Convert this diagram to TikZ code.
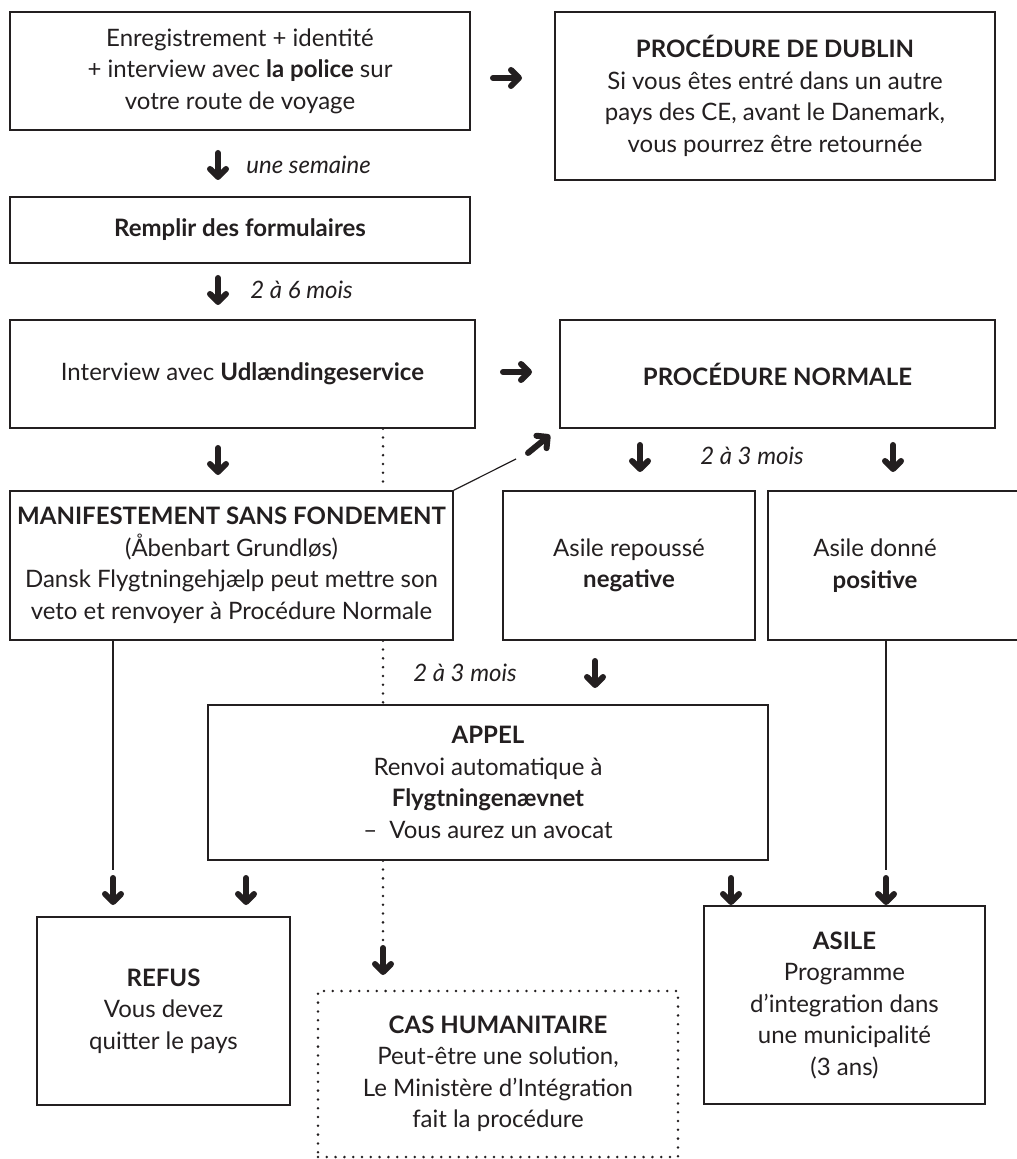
\documentclass[tikz,border=0pt]{standalone}
\usepackage{fontspec}
\setmainfont{Lato}
\usetikzlibrary{arrows.meta}

\definecolor{ink}{RGB}{35,31,32}
\def\dotX{383}
\def\aL{15}

\tikzset{
  box/.style={draw=ink, line width=0.75pt, align=center, inner sep=0pt, text=ink,
    font=\fontsize{12}{15.75}\selectfont},
  fat/.style={draw=ink, line width=3pt, line cap=round,
    -{Straight Barb[round, length=4pt, width=8pt]}},
  link/.style={draw=ink, line width=0.6pt},
  dots/.style={draw=ink, line width=1.4pt, line cap=round, dash pattern=on 0pt off 4.4pt},
  note/.style={text=ink, font=\fontsize{12}{15.75}\selectfont\itshape, inner sep=0pt},
}

\begin{document}
\begin{tikzpicture}[x=0.5pt, y=-0.5pt]
  \useasboundingbox (0,0) rectangle (1016,1159);

  %%   (label)   (x, y)   {text}
  \node[box, minimum width=230pt, minimum height=59pt] (enreg) at (240,71)
    {Enregistrement + identité\\+ interview avec \textbf{la police} sur\\votre route de voyage};
  \node[box, minimum width=220pt, minimum height=84pt] (dublin) at (775,96)
    {\textbf{PROCÉDURE DE DUBLIN}\\Si vous êtes entré dans un autre\\pays des CE, avant le Danemark,\\vous pourrez être retournée};
  \node[box, minimum width=230pt, minimum height=33pt] (forms) at (240,230)
    {\textbf{Remplir des formulaires}};
  \node[box, minimum width=232.5pt, minimum height=54pt] (interview) at (242.5,374)
    {Interview avec \textbf{Udlændingeservice}};
  \node[box, minimum width=217.5pt, minimum height=54pt] (normale) at (777.5,374)
    {\textbf{PROCÉDURE NORMALE}};
  \node[box, minimum width=221.5pt, minimum height=74.5pt] (msf) at (231.5,565.5)
    {\textbf{MANIFESTEMENT SANS FONDEMENT}\\(Åbenbart Grundløs)\\Dansk Flygtningehjælp peut mettre son\\veto et renvoyer à Procédure Normale};
  \node[box, minimum width=126pt, minimum height=74.5pt] (refuse) at (629,565.5)
    {Asile repoussé\\\textbf{negative}};
  \node[box, minimum width=131pt, minimum height=74.5pt,
        label={[xshift=-12pt, align=center, text=ink, font=\fontsize{12}{15.75}\selectfont]center:Asile donné\\\textbf{positive}}] (given) at (899,565.5) {};
  \node[box, minimum width=280pt, minimum height=77.5pt] (appel) at (488,782.5)
    {\textbf{APPEL}\\Renvoi automatique à\\\textbf{Flygtningenævnet}\\–\enspace Vous aurez un avocat};
  \node[box, minimum width=126.5pt, minimum height=94pt] (refus) at (163.5,1011)
    {\textbf{REFUS}\\Vous devez\\quitter le pays};
  \node[box, dots, minimum width=180pt, minimum height=83pt] (human) at (498,1074)
    {\textbf{CAS HUMANITAIRE}\\Peut-être une solution,\\Le Ministère d’Intégration\\fait la procédure};
  \node[box, minimum width=140.5pt, minimum height=99pt] (asile) at (844.5,1005)
    {\textbf{ASILE}\\Programme\\d’integration dans\\une municipalité\\(3 ans)};

  %% time notes
  \node[note, anchor=west] (t1) at (246,165) {une semaine};
  \node[note, anchor=west] (t2) at (250,290) {2 à 6 mois};
  \node[note] (t3) at (752,456) {2 à 3 mois};
  \node[note] (t4) at (465,673) {2 à 3 mois};

  %% fat arrows, down
  \foreach \n/\ax/\ay in {dA/218/165, dB/218/290, dC/218/460, dD/640/457, dE/893/457,
                          dF/595/673, dG/113/890, dH/246/890, dI/731/890, dJ/886/890, dK/\dotX/960} {
    \coordinate (\n-s) at (\ax,\ay-\aL+3);
    \coordinate (\n-e) at (\ax,\ay+\aL);
    \draw[fat] (\n-s) -- (\n-e);
  }
  %% fat arrows, right and slanted
  \coordinate (rA-s) at (493,78);  \coordinate (rA-e) at (522,78);
  \coordinate (rB-s) at (503,372); \coordinate (rB-e) at (532,372);
  \coordinate (sA-s) at (528,453); \coordinate (sA-e) at (550,435);
  \draw[fat] (rA-s) -- (rA-e);
  \draw[fat] (rB-s) -- (rB-e);
  \draw[fat] (sA-s) -- (sA-e);

  %% plain links
  \coordinate (sA-t) at (516,459);
  \draw[link] (msf.north east) -- (sA-t);
  \draw[link] (msf.south -| dG-s) -- ([yshift=4pt]dG-s);
  \draw[link] (given.south -| dJ-s) -- ([yshift=4pt]dJ-s);

  %% dotted path
  \draw[dots] (interview.south -| dK-s) -- (msf.north -| dK-s);
  \draw[dots] (msf.south -| dK-s) -- (appel.north -| dK-s);
  \draw[dots] (appel.south -| dK-s) -- (dK-s);
\end{tikzpicture}
\end{document}
